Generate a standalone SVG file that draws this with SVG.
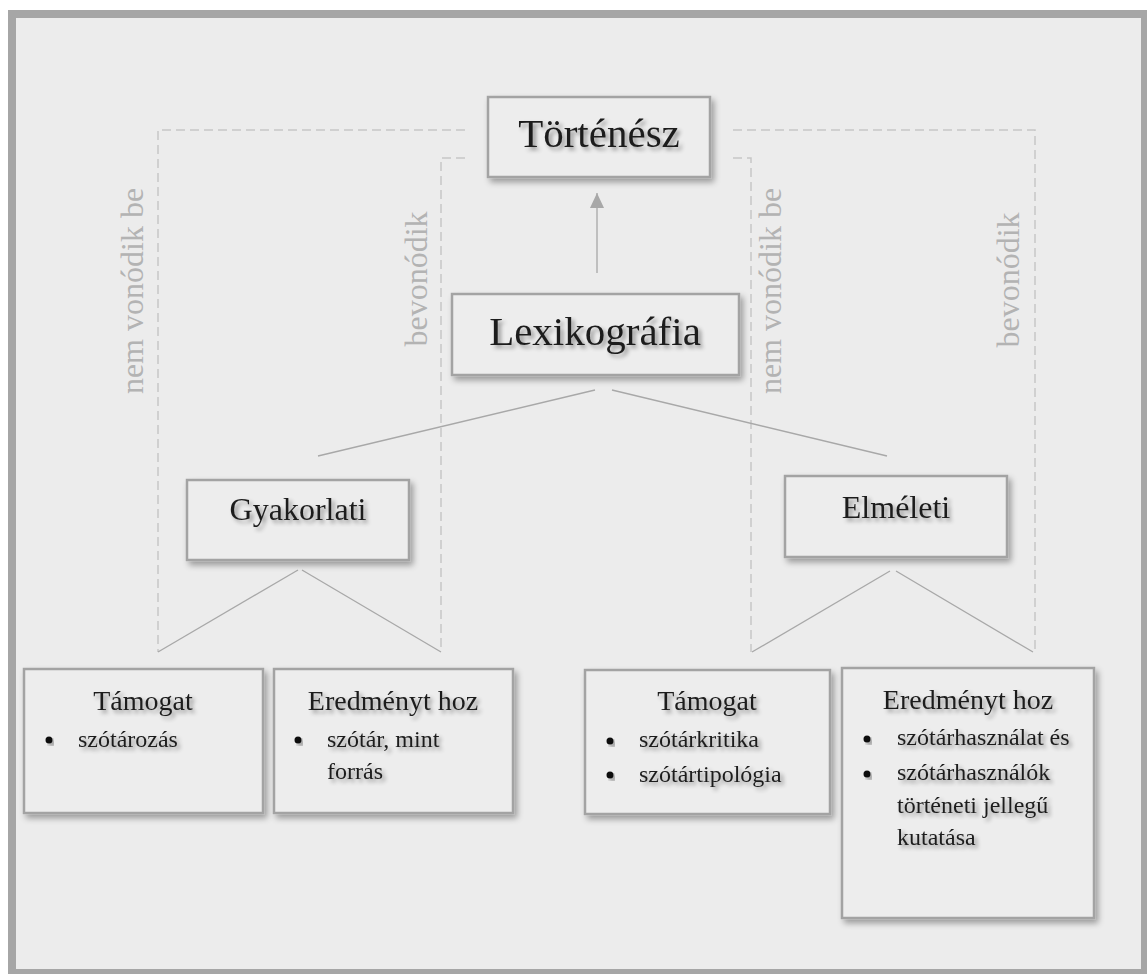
<svg xmlns="http://www.w3.org/2000/svg" width="1147" height="974" viewBox="0 0 1147 974">
  <style>
    .box { fill: #ededed; stroke: #a3a3a3; stroke-width: 2.5; filter: url(#boxShadow); }
    .txt { font-family: "Liberation Serif", "Times New Roman", serif; fill: #1e1e1e; filter: url(#textShadow); }
    .title { font-size: 41px; text-anchor: middle; }
    .mid { font-size: 32px; text-anchor: middle; }
    .head { font-size: 28px; text-anchor: middle; }
    .item { font-size: 24px; }
    .side { font-family: "Liberation Serif", "Times New Roman", serif; font-size: 32px; fill: #b3b3b3; text-anchor: middle; }
    .dash { fill: none; stroke: #c6c6c6; stroke-width: 1.5; stroke-dasharray: 9 5; }
    .link { fill: none; stroke: #a8a8a8; stroke-width: 1.3; }
    .bullet { fill: #111; filter: url(#textShadow); }
  </style>
  <defs>
    <filter id="boxShadow" x="-10%" y="-10%" width="125%" height="130%">
      <feGaussianBlur in="SourceAlpha" stdDeviation="3"/>
      <feOffset dx="3" dy="4" result="b"/>
      <feComponentTransfer><feFuncA type="linear" slope="0.35"/></feComponentTransfer>
      <feMerge><feMergeNode/><feMergeNode in="SourceGraphic"/></feMerge>
    </filter>
    <filter id="textShadow" x="-10%" y="-20%" width="125%" height="150%">
      <feGaussianBlur in="SourceAlpha" stdDeviation="2"/>
      <feOffset dx="3" dy="3"/>
      <feComponentTransfer><feFuncA type="linear" slope="0.4"/></feComponentTransfer>
      <feMerge><feMergeNode/><feMergeNode in="SourceGraphic"/></feMerge>
    </filter>
    <!-- arrowhead pointing along +x; rotated by orient="auto" -->
    <marker id="arrow" viewBox="0 0 15 14" refX="15" refY="7" markerWidth="15" markerHeight="14" markerUnits="userSpaceOnUse" orient="auto">
      <path d="M0,0 L15,7 L0,14 Z" fill="#a8a8a8"/>
    </marker>
  </defs>

  <!-- page background and frame -->
  <rect x="0" y="0" width="1147" height="974" fill="#ffffff"/>
  <rect x="12" y="14" width="1133" height="959" fill="#ececec" stroke="#a6a6a6" stroke-width="8"/>

  <!-- connectors -->
  <g id="connectors">
    <!-- dashed brackets -->
    <path class="dash" d="M465,130 H158 V652"/>
    <path class="dash" d="M465,158 H441 V652"/>
    <path class="dash" d="M733,158 H751 V652"/>
    <path class="dash" d="M733,130 H1035 V652"/>
    <!-- arrow Lexikográfia to Történész -->
    <line class="link" x1="597" y1="273" x2="597" y2="193" marker-end="url(#arrow)"/>
    <!-- Lexikográfia branches -->
    <line class="link" x1="595" y1="390" x2="318" y2="456"/>
    <line class="link" x1="612" y1="390" x2="887" y2="456"/>
    <!-- Gyakorlati branches -->
    <line class="link" x1="298" y1="570" x2="158" y2="652"/>
    <line class="link" x1="302" y1="570" x2="441" y2="652"/>
    <!-- Elméleti branches -->
    <line class="link" x1="890" y1="571" x2="752" y2="652"/>
    <line class="link" x1="896" y1="571" x2="1033" y2="652"/>
  </g>

  <!-- side labels -->
  <g id="labels">
    <text class="side" transform="translate(143,291) rotate(-90)">nem vonódik be</text>
    <text class="side" transform="translate(427,279) rotate(-90)">bevonódik</text>
    <text class="side" transform="translate(781,291) rotate(-90)">nem vonódik be</text>
    <text class="side" transform="translate(1019,280) rotate(-90)">bevonódik</text>
  </g>

  <g id="tortenesz">
    <rect class="box" x="488" y="97" width="222" height="80"/>
    <text class="txt title" x="599" y="147">Történész</text>
  </g>

  <g id="lexikografia">
    <rect class="box" x="452" y="294" width="287" height="81"/>
    <text class="txt title" x="595" y="345">Lexikográfia</text>
  </g>

  <g id="gyakorlati">
    <rect class="box" x="187" y="480" width="222" height="80"/>
    <text class="txt mid" x="298" y="520">Gyakorlati</text>
  </g>

  <g id="elmeleti">
    <rect class="box" x="785" y="476" width="222" height="81"/>
    <text class="txt mid" x="896" y="518">Elméleti</text>
  </g>

  <g id="gyak-tamogat">
    <rect class="box" x="24" y="669" width="239" height="144"/>
    <text class="txt head" x="143" y="710">Támogat</text>
    <circle class="bullet" cx="49" cy="740" r="3.5"/>
    <text class="txt item" x="78" y="747">szótározás</text>
  </g>

  <g id="gyak-eredmeny">
    <rect class="box" x="274" y="669" width="239" height="144"/>
    <text class="txt head" x="393" y="710">Eredményt hoz</text>
    <circle class="bullet" cx="298" cy="740" r="3.5"/>
    <text class="txt item" x="327" y="747">szótár, mint</text>
    <text class="txt item" x="327" y="779">forrás</text>
  </g>

  <g id="elm-tamogat">
    <rect class="box" x="585" y="670" width="245" height="144"/>
    <text class="txt head" x="707" y="710">Támogat</text>
    <circle class="bullet" cx="610" cy="741" r="3.5"/>
    <text class="txt item" x="639" y="747">szótárkritika</text>
    <circle class="bullet" cx="610" cy="775" r="3.5"/>
    <text class="txt item" x="639" y="782">szótártipológia</text>
  </g>

  <g id="elm-eredmeny">
    <rect class="box" x="842" y="668" width="252" height="250"/>
    <text class="txt head" x="968" y="709">Eredményt hoz</text>
    <circle class="bullet" cx="867" cy="739" r="3.5"/>
    <text class="txt item" x="897" y="745">szótárhasználat és</text>
    <circle class="bullet" cx="867" cy="774" r="3.5"/>
    <text class="txt item" x="897" y="780">szótárhasználók</text>
    <text class="txt item" x="897" y="813">történeti jellegű</text>
    <text class="txt item" x="897" y="845">kutatása</text>
  </g>
</svg>
